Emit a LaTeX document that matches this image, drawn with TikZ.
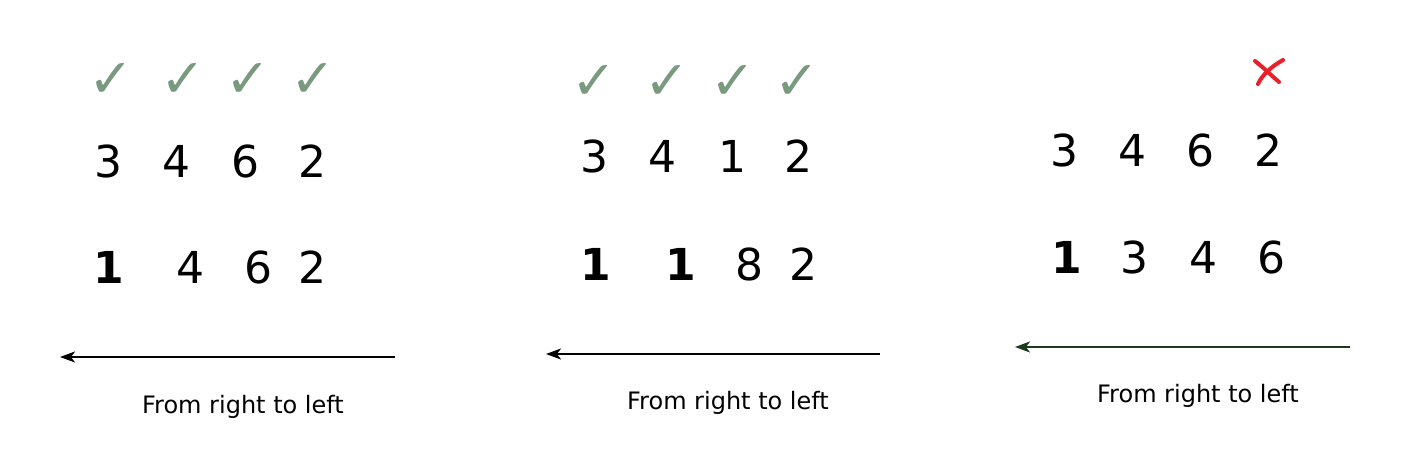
\documentclass[tikz,border=0pt]{standalone}
\usepackage{fontspec}
\setmainfont{DejaVu Sans}
\usetikzlibrary{arrows.meta}
\definecolor{okgreen}{RGB}{122,154,128}
\definecolor{nored}{RGB}{232,32,42}
\definecolor{darkline}{RGB}{30,58,30}

\begin{document}
\begin{tikzpicture}[x=0.5pt,y=-0.5pt,
  digit/.style={anchor=base,inner sep=0,font=\fontsize{22}{22}\selectfont},
  bolddigit/.style={anchor=base,inner sep=0,font=\fontsize{22}{22}\selectfont\bfseries},
  tick/.style={text=okgreen,inner sep=0,font=\fontsize{27}{27}\selectfont},
  caption/.style={anchor=base,inner sep=0,font=\fontsize{12}{12}\selectfont},
  arrowline/.style={line width=0.75pt,-{Stealth[length=7.5pt,width=5.5pt,inset=2pt]}}]
\useasboundingbox (0,0) rectangle (1404,449);

% panneau 1
\node[tick] (k11) at(111,80) {✓};
\node[tick] (k12) at(183,80) {✓};
\node[tick] (k13) at(248,80) {✓};
\node[tick] (k14) at(313,80) {✓};

\node[digit] (a11) at(108,177) {3};
\node[digit] (a12) at(176,177) {4};
\node[digit] (a13) at(245,177) {6};
\node[digit] (a14) at(312,177) {2};

\node[bolddigit] (b11) at(109,283) {1};
\node[digit] (b12) at(190,283) {4};
\node[digit] (b13) at(258,283) {6};
\node[digit] (b14) at(312,283) {2};

\coordinate (s1) at(395,357);
\coordinate (e1) at(60,357);
\draw[arrowline] (s1)--(e1);
\node[caption] (t1) at(243,413) {From right to left};

% panneau 2
\node[tick] (k21) at(594,82) {✓};
\node[tick] (k22) at(667,82) {✓};
\node[tick] (k23) at(733,82) {✓};
\node[tick] (k24) at(797,82) {✓};

\node[digit] (a21) at(594,173) {3};
\node[digit] (a22) at(662,173) {4};
\node[digit] (a23) at(732,173) {1};
\node[digit] (a24) at(798,173) {2};

\node[bolddigit] (b21) at(596,280) {1};
\node[bolddigit] (b22) at(681,280) {1};
\node[digit] (b23) at(749,280) {8};
\node[digit] (b24) at(803,280) {2};

\coordinate (s2) at(880,354);
\coordinate (e2) at(546,354);
\draw[arrowline] (s2)--(e2);
\node[caption] (t2) at(728,409) {From right to left};

% panneau 3
\draw[nored,line width=2pt,line cap=round] (1255,61) .. controls (1264,68) and (1272,76) .. (1279,82);
\draw[nored,line width=2pt,line cap=round] (1283,60) .. controls (1272,66) and (1262,75) .. (1258,84);

\node[digit] (a31) at(1064,167) {3};
\node[digit] (a32) at(1132,167) {4};
\node[digit] (a33) at(1200,167) {6};
\node[digit] (a34) at(1268,167) {2};

\node[bolddigit] (b31) at(1067,273) {1};
\node[digit] (b32) at(1134,273) {3};
\node[digit] (b33) at(1203,273) {4};
\node[digit] (b34) at(1271,273) {6};

\coordinate (s3) at(1350,347);
\coordinate (e3) at(1015,347);
\draw[arrowline,darkline] (s3)--(e3);
\node[caption] (t3) at(1198,402) {From right to left};

\end{tikzpicture}
\end{document}
